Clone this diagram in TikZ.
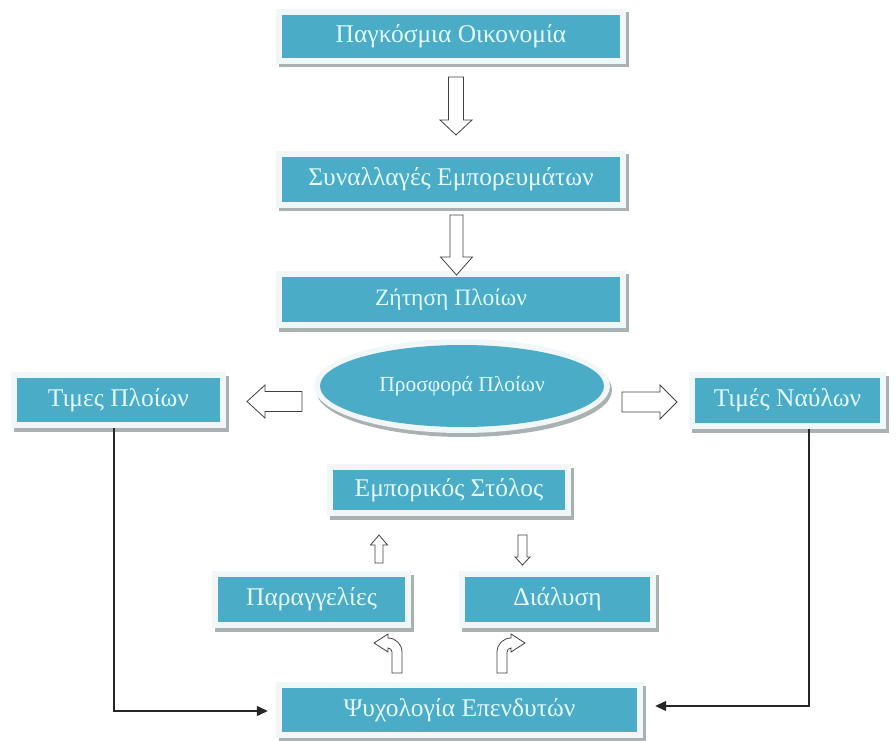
\documentclass[tikz,border=0pt]{standalone}
\usepackage{fontspec}
\setmainfont{Liberation Serif}
\usetikzlibrary{shadows,arrows.meta,shapes.geometric}
\definecolor{boxteal}{HTML}{4AACC6}
\definecolor{framecol}{HTML}{F1F7F9}
\definecolor{shadowcol}{HTML}{A9B1B3}
\definecolor{txtcol}{HTML}{E4FAFC}
\tikzset{
  framebox/.style={rectangle, fill=framecol, inner sep=0pt,
    font=\fontsize{25.5pt}{27pt}\selectfont, text=txtcol,
    drop shadow={shadow xshift=2.5pt, shadow yshift=-3.5pt, fill=shadowcol, opacity=1},
    path picture={\fill[boxteal] ([shift={(6pt,6pt)}]path picture bounding box.south west) rectangle ([shift={(-6pt,-6pt)}]path picture bounding box.north east);}},
  frameell/.style={ellipse, fill=framecol, inner sep=0pt,
    font=\fontsize{21.5pt}{23pt}\selectfont, text=txtcol,
    drop shadow={shadow xshift=2pt, shadow yshift=-4pt, fill=shadowcol, opacity=1},
    path picture={\fill[boxteal] (path picture bounding box.center) ellipse (142pt and 41pt);}},
  barrow/.style={draw=black!75, fill=white, line width=0.8pt, line join=miter},
  conn/.style={draw=black!85, line width=1.2pt, -{Triangle[length=11pt,width=10pt]}}
}
\begin{document}
\begin{tikzpicture}[x=1pt,y=1pt]
\useasboundingbox (0,0) rectangle (896,740);
% boxes
\node[framebox, minimum width=350pt, minimum height=55pt] (econ) at (451,703.5) {Παγκόσμια Οικονομία};
\node[framebox, minimum width=350pt, minimum height=57pt] (trade) at (451,560.5) {Συναλλαγές Εμπορευμάτων};
\node[framebox, minimum width=350pt, minimum height=57pt, font=\fontsize{23.5pt}{25pt}\selectfont] (demand) at (451,440.5) {Ζήτηση Πλοίων};
\node[framebox, minimum width=215pt, minimum height=56pt] (tp) at (118.5,340) {Τιμες Πλοίων};
\node[framebox, minimum width=197pt, minimum height=57pt] (tn) at (787.5,339.5) {Τιμές Ναύλων};
\node[frameell, minimum width=296pt, minimum height=94pt] (supply) at (462,354) {Προσφορά Πλοίων};
\node[framebox, minimum width=244pt, minimum height=52pt] (fleet) at (449,250) {Εμπορικός Στόλος};
\node[framebox, minimum width=199pt, minimum height=57pt] (orders) at (311.5,140.5) {Παραγγελίες};
\node[framebox, minimum width=197pt, minimum height=57pt] (diss) at (557.5,140.5) {Διάλυση};
\node[framebox, minimum width=367pt, minimum height=56pt] (psych) at (459.5,30) {Ψυχολογία Επενδυτών};
% block arrows
\draw[barrow] (448.5,663) -- (463.5,663) -- (463.5,620) -- (472,620) -- (456,605) -- (440,620) -- (448.5,620) -- cycle;
\draw[barrow] (450,525) -- (463,525) -- (463,483) -- (472.5,483) -- (456.5,465) -- (440.5,483) -- (450,483) -- cycle;
\draw[barrow] (302,348.5) -- (265,348.5) -- (265,355) -- (247,338.5) -- (265,322) -- (265,328.5) -- (302,328.5) -- cycle;
\draw[barrow] (622,348) -- (660,348) -- (660,355) -- (677,338) -- (660,321) -- (660,328) -- (622,328) -- cycle;
\draw[barrow] (375,177) -- (383,177) -- (383,195) -- (387.5,195) -- (379,205) -- (370.5,195) -- (375,195) -- cycle;
\draw[barrow] (518,205) -- (527,205) -- (527,183) -- (530,183) -- (522.5,175) -- (515,183) -- (518,183) -- cycle;
% curved block arrows
\draw[barrow] (392,67) -- (402,67) -- (402,88) arc[start angle=0,end angle=90,radius=14] -- (388,106) -- (374,97) -- (388,88) -- (388,92) arc[start angle=90,end angle=0,radius=4] -- cycle;
\draw[barrow] (507,67) -- (497,67) -- (497,88) arc[start angle=180,end angle=90,radius=14] -- (511,106) -- (525,97) -- (511,88) -- (511,92) arc[start angle=90,end angle=180,radius=4] -- cycle;
% connectors
\coordinate (lc) at (114,29);
\coordinate (rc) at (809,34);
\draw[conn, shorten >=8pt] (tp.south -| lc) -- (lc) -- (lc -| psych.west);
\draw[conn, shorten >=12pt] (tn.south -| rc) -- (rc) -- (rc -| psych.east);
\end{tikzpicture}
\end{document}
